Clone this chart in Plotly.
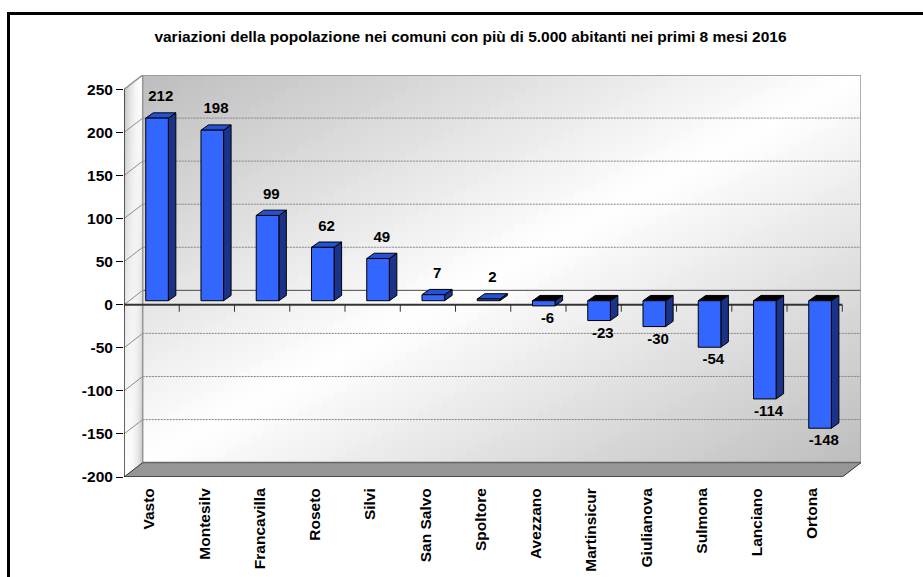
import numpy as np
import plotly.graph_objects as go

title_text = "variazioni della popolazione nei comuni con più di 5.000 abitanti nei primi 8 mesi 2016"
categories = ["Vasto", "Montesilv", "Francavilla", "Roseto", "Silvi", "San Salvo", "Spoltore",
              "Avezzano", "Martinsicur", "Giulianova", "Sulmona", "Lanciano", "Ortona"]
values = [212, 198, 99, 62, 49, 7, 2, -6, -23, -30, -54, -114, -148]
y_ticks = [-200, -150, -100, -50, 0, 50, 100, 150, 200, 250]

FONT = "Liberation Sans"
W, H = 923, 577
px_left, px_right, px_top, px_bottom = 124, 861, 75, 477
n = len(categories)
ux = (842 - 124) / n            # pixels per category
uy = (477 - 89) / 450           # pixels per value unit
D_X = 18.7 / ux                 # wall depth in axis units
D_Y = 14.4 / uy
xmin, xmax = -0.5, n - 0.5 + D_X
ymin, ymax = -200, 250 + D_Y

bar_w = 22.6 / ux
bar_shift = 5.4 / ux
base = 4 / uy
bd_x = 7.5 / ux
bd_y = 5.3 / uy


def poly(points_list):
    xs, ys = [], []
    for pts in points_list:
        for p in pts + [pts[0]]:
            xs.append(p[0]); ys.append(p[1])
        xs.append(None); ys.append(None)
    return xs, ys


def segs(seg_list):
    xs, ys = [], []
    for a, b in seg_list:
        xs += [a[0], b[0], None]
        ys += [a[1], b[1], None]
    return xs, ys


def gradient(x0, x1, y0, y1, side=False, nx=60, ny=60):
    xe = np.linspace(x0, x1, nx + 1)
    ye = np.linspace(y0, y1, ny + 1)
    xc = (np.arange(nx) + .5) / nx
    yc = (np.arange(ny) + .5) / ny      # bottom -> top
    u, v = np.meshgrid(xc, 1 - yc)
    if side:
        z = (1 - v) * (1 - u) ** 2 + v * u ** 3
    else:
        z = np.abs(u + v - 1)
    return go.Heatmap(x=xe, y=ye, z=z, zmin=0, zmax=1, showscale=False, hoverinfo="skip",
                      colorscale=[[0, "#ffffff"], [1, "#bdbdbd"]])


def filled(pl, fill, line="rgba(0,0,0,0)", width=0, z=0):
    xs, ys = poly(pl)
    return go.Scatter(x=xs, y=ys, mode="lines", fill="toself", fillcolor=fill,
                      line=dict(color=line, width=width), hoverinfo="skip",
                      showlegend=False, zorder=z, cliponaxis=False)


def lines(sl, color, width=1, dash="solid", z=0):
    xs, ys = segs(sl)
    return go.Scatter(x=xs, y=ys, mode="lines", line=dict(color=color, width=width, dash=dash),
                      hoverinfo="skip", showlegend=False, zorder=z, cliponaxis=False)


fig = go.Figure()
wx0, wy0 = xmin + D_X, ymin + D_Y
fig.add_trace(gradient(wx0, xmax, wy0, ymax))
fig.add_trace(gradient(xmin, wx0, ymin, ymax, side=True))

fig.add_trace(filled([[(xmin, ymax), (wx0, ymax), (xmin, 250)]], "#ffffff"))
fig.add_trace(filled([[(xmin, ymin), (n - .5, ymin), (xmax, wy0), (wx0, wy0)]], "#969696"))
grid = [t for t in y_ticks if t not in (-200, 0)]
fig.add_trace(lines([((wx0, t + D_Y), (xmax, t + D_Y)) for t in grid], "#858585", 1, "2px,1px"))
fig.add_trace(lines([((wx0, D_Y), (xmax, D_Y))], "#4a4a4a", 1))
fig.add_trace(lines([((xmin, t), (wx0, t + D_Y)) for t in y_ticks if t != -200], "#8c8c8c", 1))
fig.add_trace(lines([((wx0, wy0), (wx0, ymax)), ((wx0, ymax), (xmax, ymax)), ((xmax, ymax), (xmax, wy0)),
                     ((xmin, 250), (wx0, ymax))], "#969696", 1.5))
fig.add_trace(lines([((wx0, wy0), (xmax, wy0))], "#666666", 1.5))
fig.add_trace(lines([((xmin, ymin), (wx0, wy0)), ((n - .5, ymin), (xmax, wy0))], "#333333", 1))
bounds = [i - .5 for i in range(n + 1)]
tick_len = 7 / uy
fig.add_trace(lines([((xmin, ymin), (xmin, 250))], "#000000", 1.2))
fig.add_trace(lines([((xmin, ymin), (n - .5, ymin))], "#000000", 1.2))
fig.add_trace(lines([((b, ymin), (b, ymin - tick_len)) for b in bounds], "#000000", 1))
fig.add_trace(lines([((xmin, 0), (n - .5, 0))], "#333333", 2))
fig.add_trace(lines([((b, 0), (b, -tick_len)) for b in bounds], "#333333", 1))

sides, tops_pos, tops_neg = [], [], []
for i, v in enumerate(values):
    x0 = i - bar_w / 2 + bar_shift
    x1 = x0 + bar_w
    top = base + max(v, 0)
    bot = base + min(v, 0)
    sides.append([(x1, bot), (x1 + bd_x, bot + bd_y), (x1 + bd_x, top + bd_y), (x1, top)])
    face = [(x0, top), (x1, top), (x1 + bd_x, top + bd_y), (x0 + bd_x, top + bd_y)]
    (tops_pos if v > 0 else tops_neg).append(face)
fig.add_trace(filled(sides, "#1a3388", "#000000", 1, z=1))
fig.add_trace(filled(tops_pos, "#2452d2", "#000000", 1, z=1))
fig.add_trace(filled(tops_neg, "#000000", "#000000", 1, z=1))

fig.add_trace(go.Bar(x=list(range(n)), y=values, base=base, width=bar_w, offset=bar_shift - bar_w / 2,
                     marker=dict(color="#3366ff", line=dict(color="#000000", width=1)),
                     customdata=categories, hovertemplate="%{customdata}: %{y}<extra></extra>",
                     showlegend=False, zorder=2))

lab_x = [i + bar_shift + bd_x / 2 for i in range(n)]
lab_y = [base + v + (20.5 / uy if v > 0 else -13.5 / uy) for v in values]
fig.add_trace(go.Scatter(x=lab_x, y=lab_y, mode="text", text=["<b>%d</b>" % v for v in values],
                         textposition="middle center", hoverinfo="skip", showlegend=False, zorder=3,
                         cliponaxis=False, textfont=dict(family=FONT, size=15, color="#000000")))

fig.update_layout(
    width=W, height=H, autosize=False, margin=dict(l=0, r=0, t=0, b=0),
    paper_bgcolor="#ffffff", plot_bgcolor="rgba(0,0,0,0)", showlegend=False, barmode="overlay",
    font=dict(family=FONT, color="#000000"),
    title=dict(text="<b>" + title_text + "</b>", x=470.5 / W, y=1 - 37 / H, xanchor="center", yanchor="middle",
               xref="paper", yref="paper", font=dict(family=FONT, size=15.5, color="#000000")),
    xaxis=dict(domain=[px_left / W, px_right / W], range=[xmin, xmax], showgrid=False, zeroline=False,
               showline=False, tickmode="array", tickvals=[i - 0.04 for i in range(n)], automargin=False,
               ticktext=["<b>" + c + "</b>" for c in categories], tickangle=-90,
               ticks="outside", ticklen=4, tickcolor="rgba(0,0,0,0)",
               tickfont=dict(family=FONT, size=15.5, color="#000000")),
    yaxis=dict(domain=[1 - px_bottom / H, 1 - px_top / H], range=[ymin, ymax], showgrid=False, zeroline=False,
               showline=False, tickmode="array", tickvals=y_ticks, automargin=False,
               ticktext=["<b>%d</b>" % t for t in y_ticks], ticks="outside", ticklen=7, tickwidth=1,
               tickcolor="#000000", tickfont=dict(family=FONT, size=15.5, color="#000000")),
    shapes=[
        dict(type="line", xref="paper", yref="paper", x0=8.5 / W, x1=1, y0=1 - 13.5 / H, y1=1 - 13.5 / H,
             line=dict(color="#000000", width=3)),
        dict(type="line", xref="paper", yref="paper", x0=8.5 / W, x1=8.5 / W, y0=0, y1=1 - 12 / H,
             line=dict(color="#000000", width=3)),
    ],
)

fig.write_html("out.html", config=dict(displayModeBar=False),
               post_script="document.body.style.margin='0';")
